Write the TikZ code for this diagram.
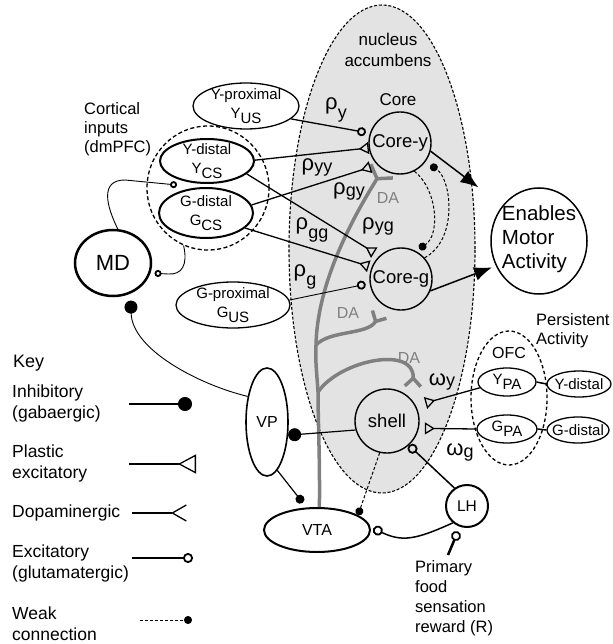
\documentclass[tikz,border=0pt]{standalone}
\usepackage{fontspec}
\setmainfont{Liberation Sans}
\usetikzlibrary{shapes.geometric,arrows.meta}
\newcommand\fsz[2]{\fontsize{#1}{#2}\selectfont}
\newcommand\lsub[1]{\raisebox{-0.3em}{#1}}
\newcommand\syn[3]{{\fsz{22}{22}#1}\raisebox{#3}{\fsz{18}{18}#2}}
\tikzset{
  area/.style={ellipse,draw,inner sep=0pt,line width=1.3pt},
  cell/.style={circle,draw,inner sep=0pt,line width=1.4pt},
  txt/.style={inner sep=0pt,align=left},
  inh/.style={line width=1.2pt,-{Circle[length=#1]}},
  inh/.default=13pt,
  exc/.style={line width=1.3pt,-{Circle[open,length=#1,line width=1.8pt]}},
  exc/.default=9pt,
  plas/.style={line width=1.3pt,-{Triangle[open,reversed,length=10pt,width=12pt,line width=1.3pt]}},
  weak/.style={line width=1pt,dash pattern=on 3pt off 2pt,-{Circle[length=8pt]}},
  da/.style={line width=3.5pt,black!50,-{Straight Barb[reversed,length=8pt,width=16pt]}},
  drive/.style={line width=1.5pt,-{Latex[length=18pt,width=14pt]}},
}
\begin{document}
\begin{tikzpicture}[x=1pt,y=-1pt,every node/.style={font=\fsz{16}{19}}]
\useasboundingbox (0,0) rectangle (612,644);
% nucleus accumbens
\node[area,fill=black!11,line width=1.1pt,dash pattern=on 3pt off 1.8pt,minimum width=186pt,minimum height=488pt] (nacc) at (382,249) {};
\node[txt,align=center,font=\fsz{17}{21}] (nacct) at (388,50) {nucleus\\accumbens};
\node[txt,font=\fsz{17}{20}] (coret) at (398,100) {Core};
\node[cell,minimum size=62pt,font=\fsz{18.5}{20}] (corey) at (400,143) {Core-y};
\node[cell,minimum size=62pt,font=\fsz{18.5}{20}] (coreg) at (401,279) {Core-g};
\node[cell,minimum size=64pt,font=\fsz{18.5}{20}] (shell) at (387,421) {shell};
\node[area,line width=1.5pt,minimum width=96pt,minimum height=106pt,label={[txt,font=\fsz{20.5}{24},yshift=2pt]center:Enables\\Motor\\Activity}] (motor) at (539,241) {};
% cortical inputs
\node[area,dash pattern=on 4pt off 2.5pt,minimum width=122pt,minimum height=124pt] (cort) at (208,188) {};
\node[area,minimum width=106pt,minimum height=46pt,label={[txt,align=center,font=\fsz{15}{19}]center:Y-proximal\\Y\lsub{US}}] (yprox) at (246,106) {};
\node[area,line width=2pt,minimum width=94pt,minimum height=44pt,label={[txt,align=center,font=\fsz{15}{19}]center:Y-distal\\Y\lsub{CS}}] (ydist) at (207,161) {};
\node[area,line width=2pt,minimum width=94pt,minimum height=50pt,label={[txt,align=center,font=\fsz{15}{19}]center:G-distal\\G\lsub{CS}}] (gdist) at (206,213) {};
\node[area,minimum width=114pt,minimum height=46pt,label={[txt,align=center,font=\fsz{15}{19}]center:G-proximal\\G\lsub{US}}] (gprox) at (233,305) {};
\node[txt,anchor=west,font=\fsz{16.5}{19}] (cortt) at (84,129) {Cortical\\inputs\\(dmPFC)};
\node[area,line width=2.5pt,minimum width=76pt,minimum height=66pt,font=\fsz{22}{24}] (md) at (113,263) {MD};
% VP, VTA, LH
\node[area,line width=1.6pt,minimum width=42pt,minimum height=108pt] (vp) at (267,422) {VP};
\node[area,line width=2pt,minimum width=106pt,minimum height=44pt] (vta) at (317,530) {VTA};
\node[cell,line width=2pt,minimum size=42pt,font=\fsz{15.5}{18}] (lh) at (467,506) {LH};
\node[txt,anchor=north west,font=\fsz{16.5}{20}] (rwd) at (415,560) {Primary\\food\\sensation\\reward (R)};
% OFC
\node[area,dash pattern=on 3.5pt off 2.5pt,minimum width=76pt,minimum height=134pt] (ofc) at (509,398) {};
\node[txt] (ofct) at (509,353) {OFC};
\node[area,minimum width=58pt,minimum height=28pt,label={[txt,font=\fsz{15}{17}]center:Y\lsub{PA}}] (ypa) at (507,382) {};
\node[area,minimum width=60pt,minimum height=28pt,label={[txt,font=\fsz{15}{17}]center:G\lsub{PA}}] (gpa) at (507,429) {};
\node[area,minimum width=64pt,minimum height=26pt,label={[txt,font=\fsz{15}{17}]center:Y-distal}] (ydr) at (579,384) {};
\node[area,minimum width=62pt,minimum height=26pt,label={[txt,font=\fsz{15}{17}]center:G-distal}] (gdr) at (578,430) {};
\node[txt,anchor=west,font=\fsz{16.5}{19}] (pers) at (536,331) {Persistent\\Activity};
% weights
\node[txt] (rhoy) at (336,110) {\syn{ρ}{y}{-9pt}};
\node[txt] (rhoyy) at (317,167) {\syn{ρ}{yy}{-2pt}};
\node[txt] (rhogy) at (349,191) {\syn{ρ}{gy}{-2pt}};
\node[txt] (rhogg) at (312,230) {\syn{ρ}{gg}{-9pt}};
\node[txt] (rhoyg) at (378,226) {\syn{ρ}{yg}{-2pt}};
\node[txt] (rhog) at (305,277) {\syn{ρ}{g}{-9pt}};
\node[txt] (omy) at (442,382) {\syn{ω}{y}{-1pt}};
\node[txt] (omg) at (460,452) {\syn{ω}{g}{-2pt}};
\node[txt,text=black!50] (dat1) at (388,198) {DA};
\node[txt,text=black!50] (dat2) at (348,313) {DA};
\node[txt,text=black!50] (dat3) at (409,358) {DA};
% dopamine
\coordinate (da1) at (316,345);
\coordinate (da2) at (318,392);
\draw[da,-{Straight Barb[reversed,length=9pt,width=26pt]}] (vta.84) .. controls (320,460) and (318,420) .. (da2) .. controls (317,375) and (315,360) .. (da1) .. controls (317,290) and (345,230) .. (corey.237);
\draw[da,shorten >=8pt] (da1) .. controls (330,330) and (368,335) .. (coreg.238);
\draw[da,shorten >=12pt] (da2) .. controls (340,360) and (415,345) .. (shell.40);
% inputs to core
\draw[exc,shorten >=4pt] (yprox.-16) -- (corey.162);
\draw[plas] (ydist.1) -- (corey.189);
\draw[plas,shorten >=7pt] (gdist.10) -- (corey.224);
\draw[plas,shorten >=6pt] (ydist.-18) -- (coreg.133);
\draw[plas,shorten >=3pt] (gdist.-21) -- (coreg.158);
\draw[exc,line width=0.9pt,shorten >=4pt] (gprox.5) -- (coreg.188);
\draw[drive,shorten >=30pt] (corey.-15) -- (motor.136);
\draw[drive,shorten >=4pt] (coreg.-22) -- (motor.210);
\draw[weak,shorten >=4pt] (corey.-63) .. controls (438,190) and (440,235) .. (coreg.62);
\draw[weak,shorten >=6pt] (coreg.42) .. controls (458,240) and (452,180) .. (corey.-36);
% shell, VP, VTA, MD
\draw[weak] (shell.-103) -- (vta.20);
\draw[inh] (shell.196) -- (vp.-32);
\draw[inh=9pt,shorten >=6pt] (vp.-78) -- (vta.115);
\draw[inh,line width=0.9pt,shorten >=7pt] (vp.127) .. controls (200,385) and (132,350) .. (md.-60);
\coordinate (mdin) at (177,185);
\draw[exc=7pt,line width=0.9pt] (md.82) .. controls (106,205) and (100,180) .. (125,180) -- (mdin);
\draw[exc=7pt,line width=0.9pt,shorten >=4pt] (cort.-113) .. controls (188,265) and (182,275) .. (168,274) -- (md.-15);
% LH
\draw[exc=10pt,line width=1.5pt] (lh.125) -- (shell.-48);
\draw[exc=10pt,line width=1.5pt,shorten >=3pt] (lh.230) .. controls (415,540) and (402,542) .. (vta.3);
\coordinate (food) at (448,555);
\draw[exc=10pt,line width=2.5pt,shorten >=5pt] (food) -- (lh.251);
% OFC
\draw[plas,shorten >=10pt] (ypa.192) -- (shell.28);
\draw[plas,shorten >=6pt] (gpa.180) -- (shell.-13);
\draw[line width=1.5pt] (ypa.east) -- (ydr.west);
\draw[line width=1.5pt] (gpa.east) -- (gdr.west);
% key
\node[txt,anchor=west,font=\fsz{18}{21}] (key) at (13,363) {Key};
\node[txt,anchor=west,font=\fsz{17.5}{21}] (kinh) at (12,403) {Inhibitory\\(gabaergic)};
\node[txt,anchor=west,font=\fsz{17.5}{21}] (kpl) at (12,463) {Plastic\\excitatory};
\node[txt,anchor=west,font=\fsz{17.5}{21}] (kda) at (12,513) {Dopaminergic};
\node[txt,anchor=west,font=\fsz{17.5}{21}] (kex) at (12,563) {Excitatory\\(glutamatergic)};
\node[txt,anchor=west,font=\fsz{17.5}{21}] (kwk) at (12,624) {Weak\\connection};
\coordinate (kinh1) at (129,404); \coordinate (kinh2) at (192,404);
\coordinate (kpl1) at (129,464); \coordinate (kpl2) at (196,464);
\coordinate (kda1) at (132,513); \coordinate (kda2) at (187,513);
\coordinate (kex1) at (132,558); \coordinate (kex2) at (193,558);
\coordinate (kwk1) at (140,620); \coordinate (kwk2) at (192,620);
\draw[inh=14pt] (kinh1) -- (kinh2);
\draw[line width=1.3pt,-{Triangle[open,reversed,length=18pt,width=19pt,line width=1.3pt]}] (kpl1) -- (kpl2);
\draw[line width=1.3pt,-{Straight Barb[reversed,length=14pt,width=16pt]}] (kda1) -- (kda2);
\draw[exc=10pt] (kex1) -- (kex2);
\draw[weak] (kwk1) -- (kwk2);
\end{tikzpicture}
\end{document}
